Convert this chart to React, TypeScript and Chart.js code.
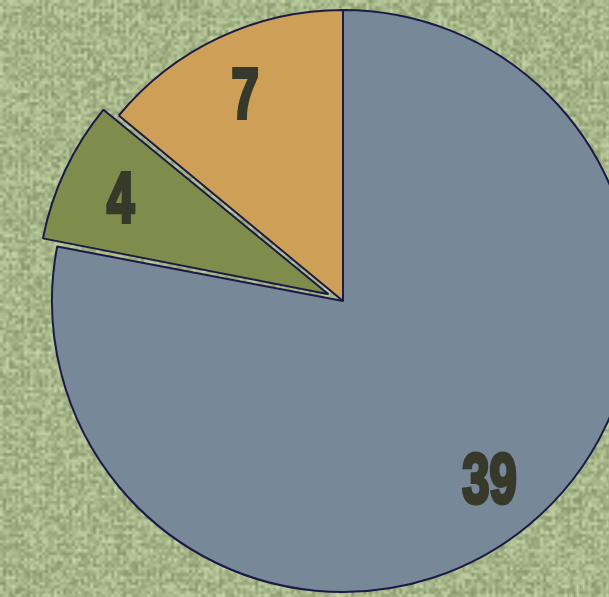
import React, { useEffect, useRef } from "react";
import { Chart, registerables } from "chart.js";

Chart.register(...registerables);

const categories = ["A", "B", "C"];
const values = [39, 4, 7];
const sliceColors = ["#778899", "#7f8c4b", "#ce9f56"];
const sliceOffsets = [0, 64, 0];

function makeTexture(): HTMLCanvasElement {
  const small = document.createElement("canvas");
  const n = 220;
  small.width = n;
  small.height = n;
  const sctx = small.getContext("2d")!;
  const img = sctx.createImageData(n, n);
  let seed = 12345;
  const rnd = () => {
    seed = (seed * 1103515245 + 12345) & 0x7fffffff;
    return seed / 0x7fffffff;
  };
  for (let y = 0; y < n; y++) {
    for (let x = 0; x < n; x++) {
      const v = rnd() * 0.75 + (x % 2 === 0 ? 0.12 : 0) + (y % 3 === 0 ? 0.1 : 0);
      const t = Math.min(1, v);
      const r = 130 + t * 75;
      const g = 148 + t * 72;
      const b = 104 + t * 70;
      const i = (y * n + x) * 4;
      img.data[i] = r;
      img.data[i + 1] = g;
      img.data[i + 2] = b;
      img.data[i + 3] = 255;
    }
  }
  sctx.putImageData(img, 0, 0);
  const big = document.createElement("canvas");
  big.width = n * 3;
  big.height = n * 3;
  const bctx = big.getContext("2d")!;
  bctx.imageSmoothingEnabled = true;
  bctx.drawImage(small, 0, 0, n * 3, n * 3);
  return big;
}

const bgPlugin = {
  id: "texbg",
  beforeDraw(chart: any) {
    const ctx = chart.ctx;
    if (!chart.$tex) chart.$tex = makeTexture();
    ctx.save();
    ctx.drawImage(chart.$tex, 0, 0);
    ctx.restore();
  },
};

// keep exploded slices at the same radius as the others
const radiusFixPlugin = {
  id: "radiusFix",
  afterDatasetUpdate(chart: any, args: any) {
    const meta = chart.getDatasetMeta(args.index);
    const base = meta.controller.outerRadius;
    meta.data.forEach((arc: any, i: number) => {
      const off = (sliceOffsets[i] || 0) / 4;
      const fix = 1 - Math.sin(Math.min(Math.PI, arc.circumference || 0));
      arc.outerRadius = base - off * fix;
    });
  },
};

const labelPlugin = {
  id: "sliceLabels",
  afterDatasetsDraw(chart: any) {
    const ctx = chart.ctx;
    const meta = chart.getDatasetMeta(0);
    const base = meta.controller.outerRadius;
    meta.data.forEach((arc: any, i: number) => {
      const mid = (arc.startAngle + arc.endAngle) / 2;
      const off = (sliceOffsets[i] || 0) / 4;
      const d = off + base * 0.79;
      const x = arc.x + Math.cos(mid) * d;
      const y = arc.y + Math.sin(mid) * d;
      ctx.save();
      ctx.translate(x, y);
      ctx.scale(0.7, 1);
      ctx.font = "bold 70px 'Liberation Sans', Arial, sans-serif";
      ctx.textAlign = "center";
      ctx.textBaseline = "middle";
      ctx.fillStyle = "#37392a";
      ctx.strokeStyle = "#37392a";
      ctx.lineWidth = 4;
      ctx.lineJoin = "miter";
      const txt = String(values[i]);
      ctx.strokeText(txt, 0, 6);
      ctx.fillText(txt, 0, 6);
      ctx.restore();
    });
  },
};

export default function App() {
  const ref = useRef<HTMLCanvasElement | null>(null);
  useEffect(() => {
    document.body.style.margin = "0";
    const chart = new Chart(ref.current!, {
      type: "pie",
      data: {
        labels: categories,
        datasets: [
          {
            data: values,
            backgroundColor: sliceColors,
            borderColor: "#1c1a46",
            borderWidth: 2,
            offset: sliceOffsets,
            clip: false,
          } as any,
        ],
      },
      options: {
        responsive: false,
        animation: false,
        radius: 291,
        layout: { padding: { left: 77, right: 0, top: 5, bottom: 0 } },
        plugins: { legend: { display: false }, tooltip: { enabled: false } },
      } as any,
      plugins: [bgPlugin, radiusFixPlugin, labelPlugin],
    });
    return () => chart.destroy();
  }, []);
  return <canvas ref={ref} width={609} height={597} style={{ display: "block" }} />;
}
